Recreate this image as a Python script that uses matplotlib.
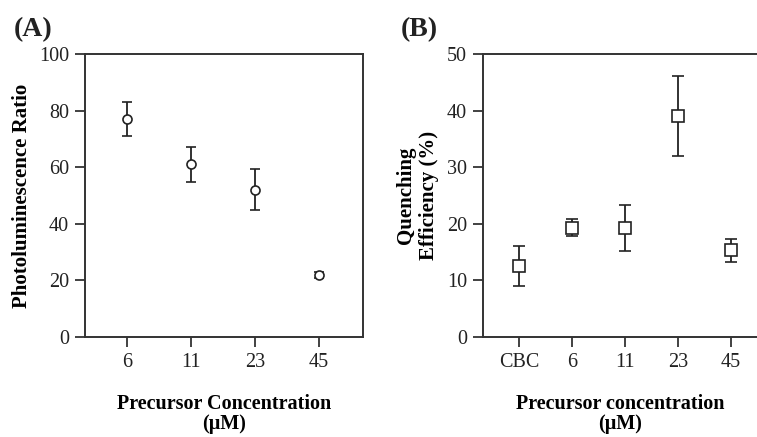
import matplotlib as mpl

mpl.use('Agg')
import matplotlib.pyplot as plt
import numpy as np

plt.rcParams['font.family'] = ['Liberation Serif', 'DejaVu Serif']

# panel A data
conc_a = ['6', '11', '23', '45']
pl_ratio = [77, 61, 52, 22]
pl_lo = [71, 54.7, 45, 21]
pl_hi = [83, 67.3, 59.3, 23]

# panel B data
conc_b = ['CBC', '6', '11', '23', '45']
quench = [12.5, 19.3, 19.3, 39, 15.3]
q_lo = [9, 17.8, 15.2, 32, 13.3]
q_hi = [16, 20.8, 23.4, 46.2, 17.3]

ink = '#222222'

fig = plt.figure(figsize=(7.57, 4.37), dpi=100)
axA = fig.add_axes([0.1123, 0.2288, 0.3672, 0.6476])
axB = fig.add_axes([0.638, 0.2288, 0.362, 0.6476])


def style(ax):
    for s in ax.spines.values():
        s.set_linewidth(1.4)
        s.set_color('#333333')
    ax.tick_params(direction='out', length=7.5, width=1.3, color='#333333',
                   labelsize=14.5, labelcolor=ink, pad=4)


xa = np.arange(len(conc_a))
ya = np.array(pl_ratio)
err_a = [ya - np.array(pl_lo), np.array(pl_hi) - ya]
axA.errorbar(xa, ya, yerr=err_a, fmt='o', mfc='white', mec=ink, ms=6.5,
             mew=1.2, ecolor=ink, elinewidth=1.3, capsize=3.5, capthick=1.3)
axA.set_xlim(-0.66, 3.69)
axA.set_ylim(0, 100)
axA.set_yticks([0, 20, 40, 60, 80, 100])
axA.set_xticks(xa)
axA.set_xticklabels(conc_a)
axA.set_ylabel('Photoluminescence Ratio', fontsize=15, fontweight='bold',
               labelpad=5)
axA.set_xlabel('Precursor Concentration\n(\u03bcM)', fontsize=14.5,
               fontweight='bold', labelpad=16, linespacing=1.0)
style(axA)

xb = np.arange(len(conc_b))
yb = np.array(quench)
err_b = [yb - np.array(q_lo), np.array(q_hi) - yb]
axB.errorbar(xb, yb, yerr=err_b, fmt='s', mfc='white', mec=ink, ms=8,
             mew=1.2, ecolor=ink, elinewidth=1.3, capsize=4, capthick=1.3)
axB.set_xlim(-0.68, 4.49)
axB.set_ylim(0, 50)
axB.set_yticks([0, 10, 20, 30, 40, 50])
axB.set_xticks(xb)
axB.set_xticklabels(conc_b)
axB.set_ylabel('Quenching\nEfficiency (%)', fontsize=15, fontweight='bold',
               labelpad=6, linespacing=1.2)
axB.set_xlabel('Precursor concentration\n(\u03bcM)', fontsize=14.5,
               fontweight='bold', labelpad=16, linespacing=1.0)
axB.spines['right'].set_visible(False)
style(axB)

fig.text(0.018, 0.918, '(A)', fontsize=20, fontweight='bold', color=ink)
fig.text(0.530, 0.918, '(B)', fontsize=20, fontweight='bold', color=ink)

plt.savefig('out.png', dpi=100)
